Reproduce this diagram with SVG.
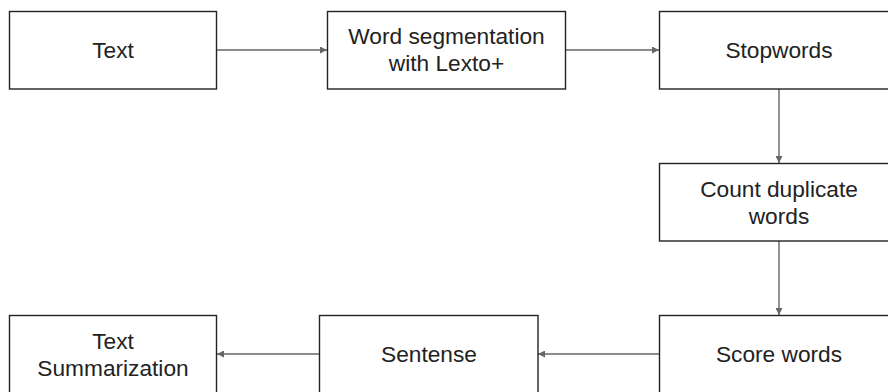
<svg xmlns="http://www.w3.org/2000/svg" width="888" height="392" viewBox="0 0 888 392">
<style>
.box{fill:#fff;stroke:#222;stroke-width:1.4}
.lbl{font-family:"Liberation Sans",Arial,sans-serif;font-size:22.7px;fill:#222;text-anchor:middle}
.con{fill:none;stroke:#666;stroke-width:1.4}
</style>
<defs>
<marker id="arr" viewBox="0 0 10 10" refX="10" refY="5" markerWidth="7" markerHeight="7" markerUnits="userSpaceOnUse" orient="auto">
<path d="M0,0 L10,5 L0,10 z" fill="#666"/>
</marker>
</defs>
<rect width="888" height="392" fill="#fff"/>
<g id="connectors">
<line class="con" x1="217" y1="50" x2="327" y2="50" marker-end="url(#arr)"/>
<line class="con" x1="566" y1="50" x2="659" y2="50" marker-end="url(#arr)"/>
<line class="con" x1="779" y1="89" x2="779" y2="163" marker-end="url(#arr)"/>
<line class="con" x1="779" y1="241" x2="779" y2="315" marker-end="url(#arr)"/>
<line class="con" x1="659" y1="354" x2="538" y2="354" marker-end="url(#arr)"/>
<line class="con" x1="319" y1="354" x2="217" y2="354" marker-end="url(#arr)"/>
</g>
<g id="text">
<rect class="box" x="9.5" y="11.5" width="207" height="77.5"/>
<text class="lbl" x="113" y="58">Text</text>
</g>
<g id="word-seg">
<rect class="box" x="327.5" y="11.5" width="238" height="77.5"/>
<text class="lbl" x="446.5" y="44">Word segmentation</text>
<text class="lbl" x="446.5" y="71">with Lexto+</text>
</g>
<g id="stopwords">
<rect class="box" x="659.5" y="11.5" width="240" height="77.5"/>
<text class="lbl" x="779" y="58">Stopwords</text>
</g>
<g id="count-dup">
<rect class="box" x="659.5" y="163.5" width="240" height="77.5"/>
<text class="lbl" x="779" y="197">Count duplicate</text>
<text class="lbl" x="779" y="224">words</text>
</g>
<g id="score">
<rect class="box" x="659.5" y="315.5" width="240" height="78"/>
<text class="lbl" x="779" y="362">Score words</text>
</g>
<g id="sentense">
<rect class="box" x="319.5" y="315.5" width="218.5" height="78"/>
<text class="lbl" x="429" y="362">Sentense</text>
</g>
<g id="summ">
<rect class="box" x="9.5" y="315.5" width="207" height="78"/>
<text class="lbl" x="113" y="349">Text</text>
<text class="lbl" x="113" y="376">Summarization</text>
</g>
</svg>
